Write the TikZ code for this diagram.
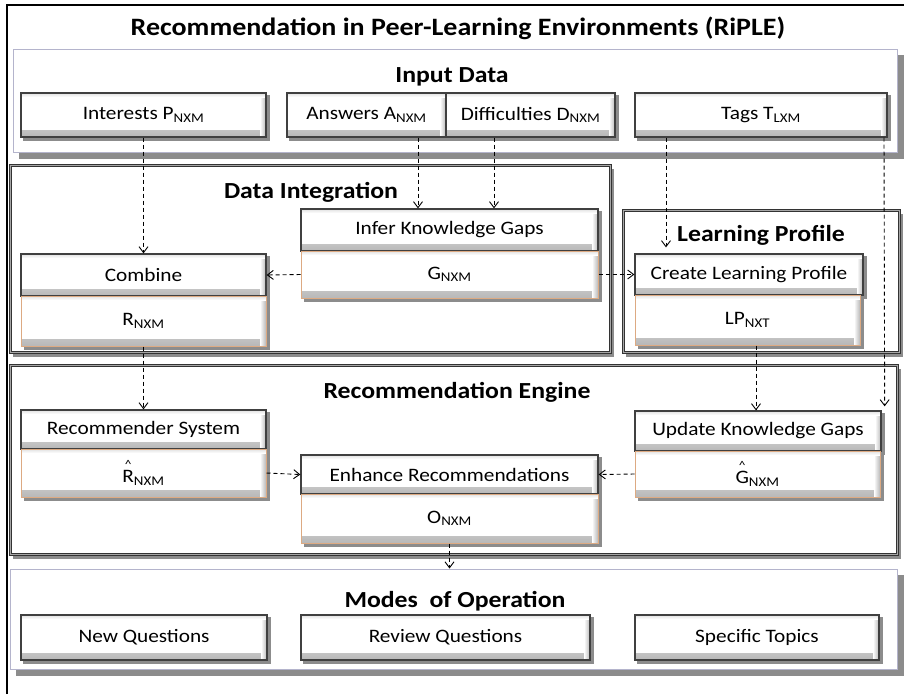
\documentclass[tikz,border=0pt]{standalone}
\usepackage{fontspec}
\setmainfont[FakeStretch=1.12]{Carlito}
\usetikzlibrary{arrows.meta,calc}
\definecolor{valedge}{HTML}{DDAA82}
\definecolor{lavedge}{HTML}{B4B4CC}
\definecolor{shadowgray}{HTML}{8C8C8C}
\pgfdeclarelayer{paper}
\pgfdeclarelayer{secshadow}
\pgfdeclarelayer{sections}
\pgfdeclarelayer{boxshadow}
\pgfsetlayers{paper,secshadow,sections,boxshadow,main}
\newcommand\hatmark[1]{\setbox0\hbox{#1}\hbox to \wd0{\hss\raisebox{0.72em}{\fontsize{12}{12}\selectfont\textasciicircum}\hss}\kern-\wd0\box0}
\begin{document}
\begin{tikzpicture}[x=1pt,y=-1pt,
  bevel/.style={path picture={
      \shade[top color=white, bottom color=black!28]
        ([yshift=7pt]path picture bounding box.south west) rectangle (path picture bounding box.south east);
      \shade[left color=white, right color=black!28]
        ([xshift=-6pt]path picture bounding box.north east) rectangle (path picture bounding box.south east);
      \shade[bottom color=white, top color=black!12]
        (path picture bounding box.north west) rectangle ([yshift=-4pt]path picture bounding box.north east);
    }},
  box/.style={draw=black!75, line width=1.3pt, fill=white, inner sep=0pt, bevel,
    font=\fontsize{19}{21}\selectfont},
  valbox/.style={box, draw=valedge, line width=1pt},
  secA/.style={draw=lavedge, line width=1pt, fill=white, inner sep=0pt},
  secB/.style={draw=black!80, line width=1pt, double=black!35, double distance=1pt, fill=white, inner sep=0pt},
  sectitle/.style={font=\bfseries\fontsize{23}{27}\selectfont, inner sep=0pt},
  conn/.style={dash pattern=on 4pt off 3pt, line width=0.9pt,
    -{Straight Barb[length=6pt,width=9pt,line width=0.9pt]}}
]
\begin{pgfonlayer}{paper}
\fill[white] (0,0) rectangle (904,694);
\end{pgfonlayer}
\useasboundingbox (0,0) rectangle (904,694);
\draw[line width=1.2pt] (7,694) -- (7,5) -- (904,5);
\node[font=\bfseries\fontsize{25}{29}\selectfont, inner sep=0pt] (title) at (458,28) {Recommendation in Peer-Learning Environments (RiPLE)};

\begin{pgfonlayer}{sections}
\node[secA, minimum width=884pt, minimum height=103pt] (input) at (455,100.5) {};
\node[secB, minimum width=600pt, minimum height=187pt] (integ) at (310,259) {};
\node[secB, minimum width=276pt, minimum height=142pt] (lprof) at (761,281.5) {};
\node[secB, minimum width=887pt, minimum height=189pt] (engine) at (453.5,460) {};
\node[secA, minimum width=887pt, minimum height=100pt] (modes) at (453.5,619) {};
\end{pgfonlayer}

\begin{pgfonlayer}{secshadow}
\foreach \n/\d in {input/6, modes/6, integ/3.5, lprof/3.5, engine/3.5}
  \fill[shadowgray] ([xshift=\d pt, yshift=-\d pt]\n.south west) rectangle ([xshift=\d pt, yshift=-\d pt]\n.north east);
\end{pgfonlayer}

% section titles
\node[sectitle] (inputT) at (452,77) {Input Data};
\node[sectitle] (integT) at (311,192) {Data Integration};
\node[sectitle] (lprofT) at (761,235) {Learning Profile};
\node[sectitle] (engineT) at (457,392) {Recommendation Engine};
\node[sectitle] (modesT) at (455,601) {Modes\ \ of Operation};

% boxes
\node[box, minimum width=245pt, minimum height=44pt] (in1) at (143.5,115) {Interests P\textsubscript{NXM}};
\node[box, minimum width=159pt, minimum height=44pt] (in2) at (366.5,115) {Answers A\textsubscript{NXM}};
\node[box, minimum width=169pt, minimum height=44pt] (in3) at (530.5,115) {Difficulties D\textsubscript{NXM}};
\node[box, minimum width=252pt, minimum height=44pt] (in4) at (761,115) {Tags T\textsubscript{LXM}};
\node[box, minimum width=297pt, minimum height=42pt] (infer) at (449.5,230) {Infer Knowledge Gaps};
\node[valbox, minimum width=297pt, minimum height=47pt] (gnxm) at (449.5,274.5) {G\textsubscript{NXM}};
\node[box, minimum width=245pt, minimum height=42pt] (combine) at (143.5,275) {Combine};
\node[valbox, minimum width=245pt, minimum height=50pt] (rnxm) at (143.5,321) {R\textsubscript{NXM}};
\node[box, minimum width=228pt, minimum height=41pt] (clp) at (749,274.5) {Create Learning Profile};
\node[valbox, minimum width=225pt, minimum height=50pt] (lpnxt) at (747.5,320) {LP\textsubscript{NXT}};
\node[box, minimum width=245pt, minimum height=39pt] (rsys) at (143.5,429.5) {Recommender System};
\node[valbox, minimum width=245pt, minimum height=48pt] (rhat) at (143.5,473) {\hatmark{R}\textsubscript{NXM}};
\node[box, minimum width=297pt, minimum height=39pt] (enh) at (449.5,474.5) {Enhance Recommendations};
\node[valbox, minimum width=297pt, minimum height=49pt] (onxm) at (449.5,518.5) {O\textsubscript{NXM}};
\node[box, minimum width=246pt, minimum height=40pt] (upd) at (758,431) {Update Knowledge Gaps};
\node[valbox, minimum width=245pt, minimum height=46pt] (ghat) at (757.5,474) {\hatmark{G}\textsubscript{NXM}};
\node[box, minimum width=246pt, minimum height=45pt] (nq) at (144,637.5) {New Questions};
\node[box, minimum width=289pt, minimum height=45pt] (rq) at (445.5,637.5) {Review Questions};
\node[box, minimum width=244pt, minimum height=45pt] (st) at (757,637.5) {Specific Topics};

\begin{pgfonlayer}{boxshadow}
\foreach \n in {in1,in2,in3,in4,infer,gnxm,combine,rnxm,clp,lpnxt,rsys,rhat,enh,onxm,upd,ghat,nq,rq,st}
  \fill[shadowgray] ([xshift=3pt, yshift=-3pt]\n.south west) rectangle ([xshift=3pt, yshift=-3pt]\n.north east);
\end{pgfonlayer}

% connectors
\draw[conn] (in1.south) -- (combine.north);
\draw[conn] ([xshift=51.5pt]in2.south) -- ([xshift=51.5pt]in2.south |- infer.north);
\draw[conn] ([xshift=-36.5pt]in3.south) -- ([xshift=-36.5pt]in3.south |- infer.north);
\draw[conn] ([xshift=-95pt]in4.south) -- ([xshift=-95pt,yshift=6pt]in4.south |- clp.north);
\draw[conn] ([xshift=123pt]in4.south) -- ([xshift=3pt,yshift=4pt]upd.north east);
\draw[conn] (gnxm.west) -- (combine.east);
\draw[conn] (gnxm.east) -- (clp.west);
\draw[conn] (rnxm.south) -- (rsys.north);
\draw[conn] ([xshift=8.5pt]lpnxt.south) -- ([xshift=8.5pt]lpnxt.south |- upd.north);
\draw[conn] (rhat.east) -- (enh.west);
\draw[conn] (ghat.west) -- (enh.east);
\draw[conn] (onxm.south) -- (onxm.south |- modes.north);
\end{tikzpicture}
\end{document}
